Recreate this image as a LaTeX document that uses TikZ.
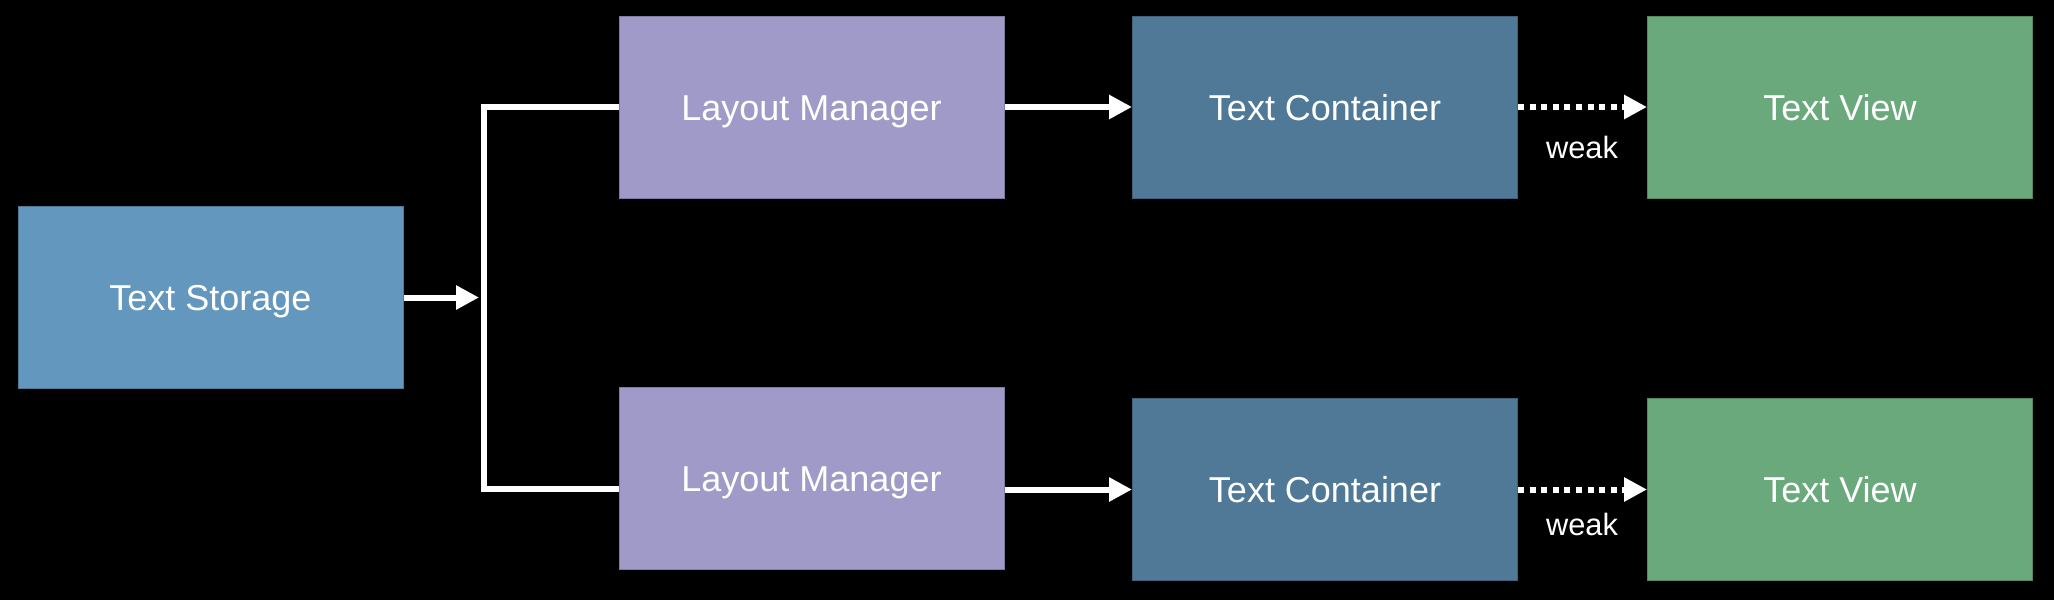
\documentclass[tikz,border=0pt]{standalone}
\usepackage{fontspec}
\setmainfont{Liberation Sans}
\usetikzlibrary{arrows.meta}
\definecolor{storagec}{RGB}{100,151,190}
\definecolor{layoutc}{RGB}{160,154,200}
\definecolor{containerc}{RGB}{80,121,151}
\definecolor{viewc}{RGB}{106,169,124}
\begin{document}
\begin{tikzpicture}[x=0.5pt,y=-0.5pt,
  boxstyle/.style={rectangle, minimum width=192.5pt, minimum height=91pt, inner sep=0pt,
    text=white, font=\fontsize{18}{20}\selectfont, line width=0.5pt,
    text height=13pt, text depth=0pt},
  conn/.style={white, line width=3pt, -{Triangle[length=11.5pt,width=11.5pt]}},
  plainconn/.style={white, line width=3pt},
  weakconn/.style={white, line width=3pt, dash pattern=on 3pt off 2.8pt, -{Triangle[length=11.5pt,width=11.5pt]}},
  lbl/.style={text=white, font=\fontsize{15.4}{17}\selectfont, inner sep=0pt, anchor=base}]
\fill[black] (0,0) rectangle (2054,600);
\useasboundingbox (0,0) rectangle (2054,600);
\node[boxstyle, fill=storagec, draw=storagec!80!black] (ts) at (210.5,297.5) {Text Storage};
\node[boxstyle, fill=layoutc, draw=layoutc!80!black] (lm1) at (811.5,107) {Layout Manager};
\node[boxstyle, fill=layoutc, draw=layoutc!80!black] (lm2) at (811.5,478) {Layout Manager};
\node[boxstyle, fill=containerc, draw=containerc!80!black] (tc1) at (1325,107) {Text Container};
\node[boxstyle, fill=containerc, draw=containerc!80!black] (tc2) at (1325,489.5) {Text Container};
\node[boxstyle, fill=viewc, draw=viewc!80!black] (tv1) at (1840,107) {Text View};
\node[boxstyle, fill=viewc, draw=viewc!80!black] (tv2) at (1840,489.5) {Text View};
\coordinate (bmid) at (484,297.5);
\coordinate (btop) at (484,107);
\coordinate (bbot) at (484,489);
\draw[conn] (ts.east) -- ([xshift=-2.5pt]bmid);
\draw[plainconn, line join=miter] (lm1.west) -- (btop) -- (bbot) -- (lm2.west |- bbot);
\draw[conn] (lm1.east) -- (tc1.west);
\draw[conn] (lm2.east |- tc2.west) -- (tc2.west);
\draw[weakconn] (tc1.east) -- (tv1.west);
\draw[weakconn] (tc2.east) -- (tv2.west);
\node[lbl] (w1) at (1582,158) {weak};
\node[lbl] (w2) at (1582,535) {weak};
\end{tikzpicture}
\end{document}
